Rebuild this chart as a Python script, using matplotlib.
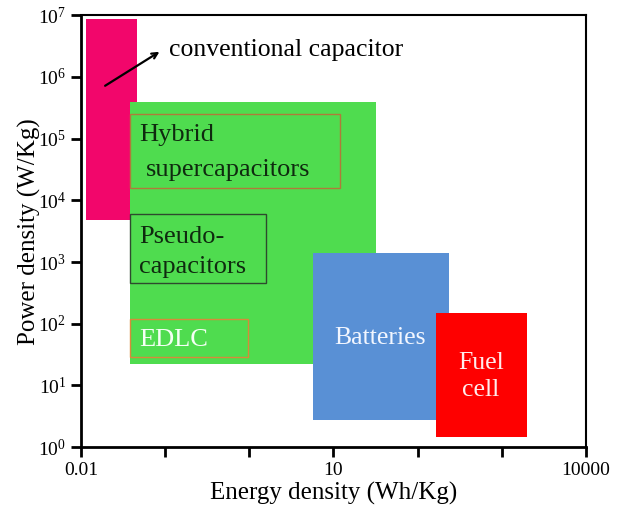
import matplotlib.pyplot as plt
from matplotlib.patches import Rectangle
from matplotlib.ticker import LogLocator, FixedLocator, NullFormatter

plt.rcParams['font.family'] = ['Liberation Serif', 'DejaVu Serif']

# regions: energy density (Wh/Kg) range x power density (W/Kg) range
regions = ['conventional capacitor', 'supercapacitors', 'Batteries', 'Fuel cell']
x_min = [0.0115, 0.038, 5.7, 164]
x_max = [0.046, 31.8, 234, 1980]
y_min = [4.8e3, 22, 2.73, 1.45]
y_max = [8.6e6, 3.9e5, 1390, 148]
fill_colors = ['#F2066B', '#4FDC4F', '#5990D5', '#FE0000']

# labelled boxes inside the supercapacitor region
box_labels = ['Hybrid\nsupercapacitors', 'Pseudo-\ncapacitors', 'EDLC']
box_x0 = [0.038, 0.038, 0.038]
box_x1 = [11.9, 1.57, 0.96]
box_y0 = [1.57e4, 454, 28.6]
box_y1 = [2.48e5, 5960, 118]
box_edges = ['#B07A3A', '#2E4A2E', '#D88A3A']
box_text_colors = ['#0F2A0F', '#0F2A0F', '#F4FFF4']

fig = plt.figure(figsize=(6.22, 5.07), dpi=100)
ax = fig.add_axes([0.130, 0.118, 0.812, 0.852])
ax.set_xscale('log')
ax.set_yscale('log')
ax.set_xlim(0.01, 10000)
ax.set_ylim(1, 1e7)

for i in range(len(regions)):
    ax.add_patch(Rectangle((x_min[i], y_min[i]), x_max[i] - x_min[i], y_max[i] - y_min[i],
                           facecolor=fill_colors[i], edgecolor='none', zorder=1))

for i in range(len(box_labels)):
    ax.add_patch(Rectangle((box_x0[i], box_y0[i]), box_x1[i] - box_x0[i], box_y1[i] - box_y0[i],
                           facecolor='none', edgecolor=box_edges[i], linewidth=1, zorder=2))

ax.text(0.049, 1.13e5, 'Hybrid', fontsize=19, color=box_text_colors[0], va='center', ha='left')
ax.text(0.059, 3.07e4, 'supercapacitors', fontsize=19, color=box_text_colors[0], va='center', ha='left')
ax.text(0.049, 2500, 'Pseudo-', fontsize=19, color=box_text_colors[1], va='center', ha='left')
ax.text(0.049, 824, 'capacitors', fontsize=19, color=box_text_colors[1], va='center', ha='left')
ax.text(0.049, 54, 'EDLC', fontsize=19, color=box_text_colors[2], va='center', ha='left')

ax.text(35.6, 58, 'Batteries', fontsize=18.5, color='#F2F6FF', ha='center', va='center')
ax.text(562, 14.1, 'Fuel\ncell', fontsize=18.5, color='#FFECEC', ha='center', va='center',
        linespacing=1.3)

ax.annotate('', xy=(0.0916, 2.7e6), xytext=(0.0182, 6.8e5),
            arrowprops=dict(arrowstyle='->', color='black', lw=1.6))
ax.text(0.111, 2.71e6, 'conventional capacitor', fontsize=18.5, va='center', ha='left')

ax.xaxis.set_major_locator(FixedLocator([0.01, 0.1, 1, 10, 100, 1000, 10000]))
ax.set_xticklabels(['0.01', '', '', '10', '', '', '10000'])
ax.xaxis.set_minor_formatter(NullFormatter())
ax.xaxis.set_minor_locator(FixedLocator([]))
ax.yaxis.set_major_locator(LogLocator(base=10, numticks=10))
ax.yaxis.set_minor_locator(FixedLocator([]))

ax.tick_params(axis='both', which='major', direction='out', length=7, width=2,
               labelsize=14, top=False, right=False)
for side in ['left', 'bottom']:
    ax.spines[side].set_linewidth(2)
for side in ['top', 'right']:
    ax.spines[side].set_linewidth(1.5)

ax.set_xlabel('Energy density (Wh/Kg)', fontsize=18, labelpad=2)
ax.set_ylabel('Power density (W/Kg)', fontsize=18, labelpad=-2)

fig.savefig('out.png', dpi=100)
